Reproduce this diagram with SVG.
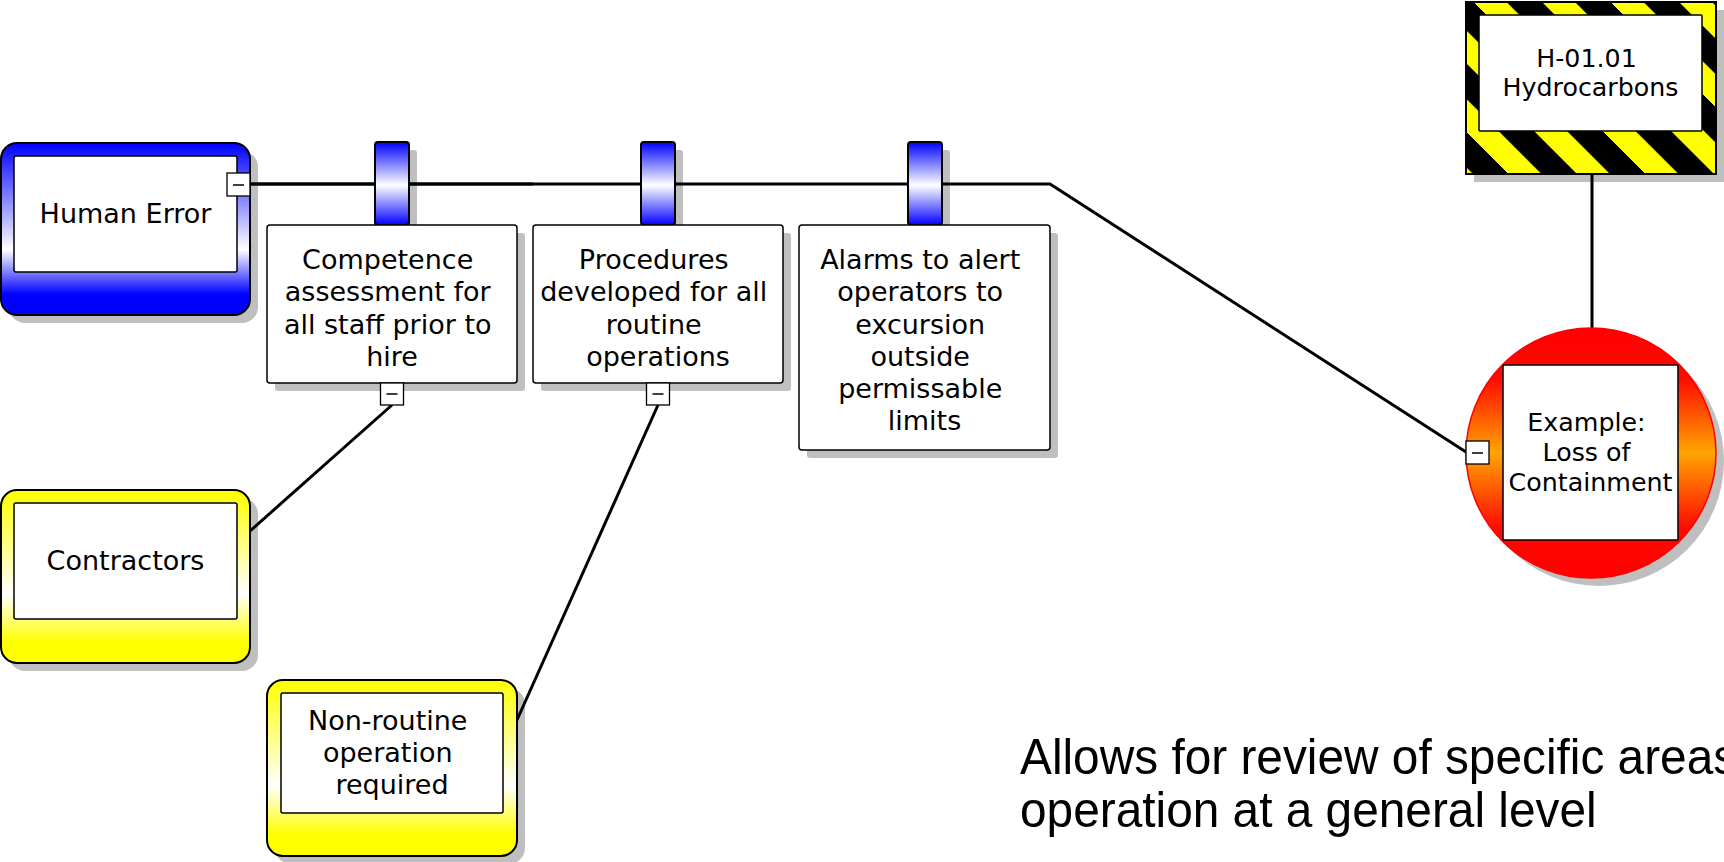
<svg xmlns="http://www.w3.org/2000/svg" width="1724" height="862" viewBox="0 0 1724 862">
  <style>
    .lbl { font-family: "DejaVu Sans", Verdana, sans-serif; font-size: 27px; text-anchor: middle; fill: #000; }
    .lbl-s { font-size: 25.3px; }
    .note { font-family: "Liberation Sans", Arial, sans-serif; font-size: 50px; fill: #000; }
    .shadow { fill: #000; fill-opacity: 0.25; }
    .frame { stroke: #000; stroke-width: 2; }
    .card { fill: #fff; stroke: #000; stroke-width: 1.5; }
    .wire { fill: none; stroke: #000; stroke-width: 3; }
    .wire-main { stroke-width: 3.5; }
    .toggle rect { fill: #fff; stroke: #000; stroke-width: 1.3; }
    .toggle line { stroke: #000; stroke-width: 1.5; }
  </style>
  <defs>
    <linearGradient id="gBlue" x1="0" y1="0" x2="0" y2="1">
      <stop offset="0" stop-color="#0000ff"/>
      <stop offset="0.62" stop-color="#ffffff"/>
      <stop offset="0.88" stop-color="#0000ff"/>
      <stop offset="1" stop-color="#0000ff"/>
    </linearGradient>
    <linearGradient id="gYellow" x1="0" y1="0" x2="0" y2="1">
      <stop offset="0" stop-color="#ffff00"/>
      <stop offset="0.6" stop-color="#ffffff"/>
      <stop offset="0.88" stop-color="#ffff00"/>
      <stop offset="1" stop-color="#ffff00"/>
    </linearGradient>
    <linearGradient id="gBarrier" x1="0" y1="0" x2="0" y2="1">
      <stop offset="0" stop-color="#0000ff"/>
      <stop offset="0.52" stop-color="#ffffff"/>
      <stop offset="1" stop-color="#0000ff"/>
    </linearGradient>
    <linearGradient id="gTop" x1="0" y1="0" x2="0" y2="1">
      <stop offset="0" stop-color="#ff0000"/>
      <stop offset="0.2" stop-color="#ff0a00"/>
      <stop offset="0.5" stop-color="#ffa500"/>
      <stop offset="0.8" stop-color="#ff0a00"/>
      <stop offset="1" stop-color="#ff0000"/>
    </linearGradient>
    <pattern id="stripes" patternUnits="userSpaceOnUse" x="33" y="0" width="68.5" height="400" patternTransform="skewX(45)">
      <rect x="0" y="0" width="68.5" height="400" fill="#000"/>
      <rect x="0" y="0" width="33" height="400" fill="#ffff00"/>
    </pattern>
  </defs>

  <!-- connectors -->
  <g id="connectors">
    <path class="wire wire-main" d="M250 184 H533"/>
    <path class="wire" d="M533 184 H1050 L1466 452"/>
    <path class="wire" d="M1592 174 V328"/>
    <path class="wire" d="M250 531 L392 405"/>
    <path class="wire" d="M517 720 L658 405"/>
  </g>

  <!-- threat: Human Error -->
  <g id="threat-human-error">
    <rect class="shadow" x="9" y="151" width="249" height="172" rx="16"/>
    <rect class="frame" x="1" y="143" width="249" height="172" rx="16" fill="url(#gBlue)"/>
    <rect class="card" x="14" y="156" width="223" height="116" rx="2"/>
    <text class="lbl" x="125.5" y="223">Human Error</text>
    <g class="toggle">
      <rect x="227" y="173" width="23" height="23"/>
      <line x1="233" y1="185" x2="244" y2="185"/>
    </g>
  </g>

  <!-- barrier 1 -->
  <g id="barrier-competence">
    <rect class="shadow" x="383" y="150" width="34" height="83" rx="3"/>
    <rect class="frame" x="375" y="142" width="34" height="83" rx="3" fill="url(#gBarrier)"/>
    <rect class="shadow" x="275" y="233" width="250" height="158" rx="3"/>
    <rect class="card" x="267" y="225" width="250" height="158" rx="3"/>
    <text class="lbl" x="392">
      <tspan x="392" y="269">Competence</tspan>
      <tspan x="392" y="301">assessment for</tspan>
      <tspan x="392" y="334">all staff prior to</tspan>
      <tspan x="392" y="366">hire</tspan>
    </text>
    <g class="toggle">
      <rect x="380.5" y="383" width="23" height="22"/>
      <line x1="386.5" y1="394" x2="397.5" y2="394"/>
    </g>
  </g>

  <!-- barrier 2 -->
  <g id="barrier-procedures">
    <rect class="shadow" x="649" y="150" width="34" height="83" rx="3"/>
    <rect class="frame" x="641" y="142" width="34" height="83" rx="3" fill="url(#gBarrier)"/>
    <rect class="shadow" x="541" y="233" width="250" height="158" rx="3"/>
    <rect class="card" x="533" y="225" width="250" height="158" rx="3"/>
    <text class="lbl" x="658">
      <tspan x="658" y="269">Procedures</tspan>
      <tspan x="658" y="301">developed for all</tspan>
      <tspan x="658" y="334">routine</tspan>
      <tspan x="658" y="366">operations</tspan>
    </text>
    <g class="toggle">
      <rect x="646.5" y="383" width="23" height="22"/>
      <line x1="652.5" y1="394" x2="663.5" y2="394"/>
    </g>
  </g>

  <!-- barrier 3 -->
  <g id="barrier-alarms">
    <rect class="shadow" x="916" y="150" width="34" height="83" rx="3"/>
    <rect class="frame" x="908" y="142" width="34" height="83" rx="3" fill="url(#gBarrier)"/>
    <rect class="shadow" x="807" y="233" width="251" height="225" rx="3"/>
    <rect class="card" x="799" y="225" width="251" height="225" rx="3"/>
    <text class="lbl" x="924.5">
      <tspan x="924.5" y="269">Alarms to alert</tspan>
      <tspan x="924.5" y="301">operators to</tspan>
      <tspan x="924.5" y="334">excursion</tspan>
      <tspan x="924.5" y="366">outside</tspan>
      <tspan x="924.5" y="398">permissable</tspan>
      <tspan x="924.5" y="430">limits</tspan>
    </text>
  </g>

  <!-- escalation factor: Contractors -->
  <g id="factor-contractors">
    <rect class="shadow" x="9" y="498" width="249" height="173" rx="16"/>
    <rect class="frame" x="1" y="490" width="249" height="173" rx="16" fill="url(#gYellow)"/>
    <rect class="card" x="14" y="503" width="223" height="116" rx="2"/>
    <text class="lbl" x="125.5" y="570">Contractors</text>
  </g>

  <!-- escalation factor: Non-routine operation -->
  <g id="factor-non-routine">
    <rect class="shadow" x="275" y="688" width="250" height="176" rx="16"/>
    <rect class="frame" x="267" y="680" width="250" height="176" rx="16" fill="url(#gYellow)"/>
    <rect class="card" x="281" y="693" width="222" height="120" rx="2"/>
    <text class="lbl" x="392">
      <tspan x="392" y="730">Non-routine</tspan>
      <tspan x="392" y="762">operation</tspan>
      <tspan x="392" y="794">required</tspan>
    </text>
  </g>

  <!-- hazard -->
  <g id="hazard">
    <rect class="shadow" x="1474" y="10" width="250" height="172"/>
    <rect class="frame" x="1466" y="2" width="250" height="172" fill="url(#stripes)"/>
    <rect class="card" x="1479" y="15" width="223" height="116" rx="1"/>
    <text class="lbl lbl-s" x="1590.5">
      <tspan x="1590.5" y="67">H-01.01</tspan>
      <tspan x="1590.5" y="96">Hydrocarbons</tspan>
    </text>
  </g>

  <!-- top event -->
  <g id="top-event">
    <circle class="shadow" cx="1599" cy="461" r="125"/>
    <circle cx="1591" cy="453" r="125" fill="url(#gTop)" stroke="#ff0000" stroke-width="1.5"/>
    <rect class="card" x="1503" y="365" width="175" height="175" rx="1"/>
    <text class="lbl lbl-s" x="1590.5">
      <tspan x="1590.5" y="431">Example:</tspan>
      <tspan x="1590.5" y="461">Loss of</tspan>
      <tspan x="1590.5" y="491">Containment</tspan>
    </text>
    <g class="toggle">
      <rect x="1466" y="441" width="23" height="23"/>
      <line x1="1472" y1="453" x2="1483" y2="453"/>
    </g>
  </g>

  <!-- caption -->
  <g id="caption" transform="translate(1020 0) scale(0.956 1)">
    <text class="note" x="0" y="774">Allows for review of specific areas</text>
    <text class="note" x="0" y="827">operation at a general level</text>
  </g>
</svg>
